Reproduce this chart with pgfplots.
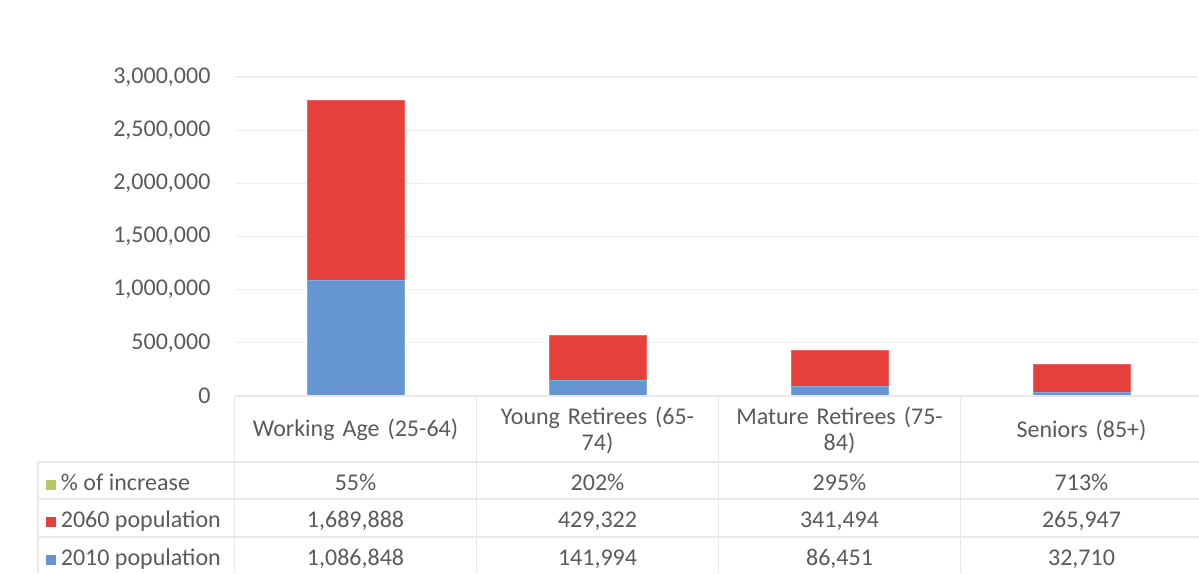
\documentclass[border=0pt]{standalone}
\usepackage{fontspec}
\setmainfont{Carlito}
\usepackage{pgfplots}
\pgfplotsset{compat=1.18}

\definecolor{redbar}{HTML}{E5403B}
\definecolor{bluebar}{HTML}{6696D2}
\definecolor{greenbar}{HTML}{B3C86A}
\definecolor{txt}{HTML}{5A5A5A}
\definecolor{gridc}{HTML}{EDEDED}
\definecolor{tablec}{HTML}{E8E8E8}

% little coloured square in front of a row label
\newcommand{\key}[1]{\textcolor{#1}{\rule{5pt}{5pt}}\hspace{2.5pt}}

\begin{document}
\begin{tikzpicture}[font=\fontsize{12}{13}\selectfont]
  \begin{axis}[
    at={(0,0)}, anchor=south west,
    scale only axis,
    width=481.6pt, height=159.5pt,
    ybar stacked, bar width=48.5pt,
    xmin=-0.5, xmax=3.48,
    ymin=0, ymax=3000000,
    xtick={0,1,2,3},
    xticklabels={Working Age (25-64), Young Retirees (65-\\74), Mature Retirees (75-\\84), Seniors (85+)},
    xticklabel style={anchor=center, yshift=-17pt, align=center, text width=120pt, text=txt},
    ytick={0,500000,...,3000000},
    yticklabel style={anchor=east, xshift=-8.5pt, text=txt},
    scaled y ticks=false,
    /pgf/number format/.cd, fixed, 1000 sep={,}, assume math mode=true,
    /pgfplots/.cd,
    major tick length=0pt,
    axis line style={draw=none},
    ymajorgrids, grid style={gridc, line width=0.6pt},
    clip=false,
  ]
    % 2010 population
    \addplot[fill=bluebar, draw=bluebar!80!white, line width=0.5pt] coordinates {
      (0,1086848) (1,141994) (2,86451) (3,32710)
    };
    % 2060 population
    \addplot[fill=redbar, draw=redbar!80!white, line width=0.5pt] coordinates {
      (0,1689888) (1,429322) (2,341494) (3,265947)
    };
    % % of increase (too small to be seen)
    \addplot[fill=greenbar, draw=none] coordinates {
      (0,55) (1,202) (2,295) (3,713)
    };
  \end{axis}

  % data table lines
  \begin{scope}[tablec, line width=0.6pt]
    \draw (0,0) -- (482.25pt,0);
    \foreach \y in {-33pt,-51.5pt,-70.5pt}
      \draw (-98.25pt,\y) -- (482.25pt,\y);
    \draw (-98.25pt,-33pt) -- (-98.25pt,-88.5pt);
    \foreach \x in {0pt,121pt,242pt,363pt}
      \draw (\x,0) -- (\x,-88.5pt);
  \end{scope}

  % data table text
  \begin{scope}[text=txt]
    \node[anchor=base west, inner sep=0pt] at (-94.5pt,-47pt) {\key{greenbar}\% of increase};
    \node[anchor=base west, inner sep=0pt] at (-94.5pt,-65.5pt) {\key{redbar}2060 population};
    \node[anchor=base west, inner sep=0pt] at (-94.5pt,-84.5pt) {\key{bluebar}2010 population};

    \node[anchor=base] at (60.5pt,-47pt) {55\%};
    \node[anchor=base] at (181.5pt,-47pt) {202\%};
    \node[anchor=base] at (302.5pt,-47pt) {295\%};
    \node[anchor=base] at (423.5pt,-47pt) {713\%};

    \node[anchor=base] at (60.5pt,-65.5pt) {1,689,888};
    \node[anchor=base] at (181.5pt,-65.5pt) {429,322};
    \node[anchor=base] at (302.5pt,-65.5pt) {341,494};
    \node[anchor=base] at (423.5pt,-65.5pt) {265,947};

    \node[anchor=base] at (60.5pt,-84.5pt) {1,086,848};
    \node[anchor=base] at (181.5pt,-84.5pt) {141,994};
    \node[anchor=base] at (302.5pt,-84.5pt) {86,451};
    \node[anchor=base] at (423.5pt,-84.5pt) {32,710};
  \end{scope}

  \pgfresetboundingbox
  \path[use as bounding box] (-117.25pt,-88.5pt) rectangle (482.25pt,198pt);
\end{tikzpicture}
\end{document}
